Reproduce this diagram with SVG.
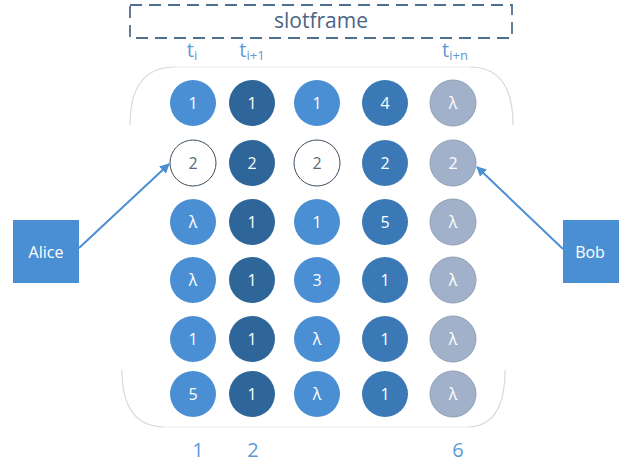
<svg xmlns="http://www.w3.org/2000/svg" width="619" height="464" viewBox="0 0 619 464">
<style>
.a{fill:#4a8fd3}
.d{fill:#2f6699}
.m{fill:#3a79b6}
.g{fill:#a1b1c9;stroke:#8f9fb6}
.h{fill:#ffffff;stroke:#3b4d60;stroke-width:1}
.t{font-family:"Open Sans","Liberation Sans",sans-serif;font-size:16px;fill:#ffffff;text-anchor:middle}
.th{fill:#5a6a7a}
.lbl{font-family:"Open Sans","Liberation Sans",sans-serif;font-size:20px;fill:#5b9bd5;text-anchor:middle}
.box{fill:#4a8fd3}
.bt{font-family:"Open Sans","Liberation Sans",sans-serif;font-size:16px;fill:#ffffff;text-anchor:middle}
.conn{stroke:#4a8fd3;stroke-width:2;fill:none;marker-end:url(#ah)}
</style>
<defs>
<marker id="ah" viewBox="0 0 10 10" refX="9" refY="5" markerWidth="5" markerHeight="5" orient="auto">
<path d="M0,0 L10,5 L0,10 z" fill="#4a8fd3"/>
</marker>
</defs>
<rect width="619" height="464" fill="#ffffff"/>
<g id="container">
<path d="M130,125 Q130,67 175,67 M470,67 Q513,67 513,125 M122,370 Q122,427 165,427 M467,427 Q505,427 505,370" fill="none" stroke="#d9d9d9" stroke-width="1.2"/>
<path d="M175,67 L470,67 M165,427 L467,427" fill="none" stroke="#f0f2f5" stroke-width="1.5"/>
</g>
<g id="slotframe">
<rect x="130" y="5" width="382" height="33" fill="none" stroke="#4f6f8f" stroke-width="1.8" stroke-dasharray="12,7"/>
<text x="321" y="28" font-family="Open Sans,Liberation Sans,sans-serif" font-size="21" fill="#4a6583" text-anchor="middle">slotframe</text>
</g>
<g id="time-labels">
<text class="lbl" x="192" y="57">t<tspan font-size="13" dy="3">i</tspan></text>
<text class="lbl" x="252" y="57">t<tspan font-size="13" dy="3">i+1</tspan></text>
<text class="lbl" x="455" y="57">t<tspan font-size="13" dy="3">i+n</tspan></text>
</g>
<g id="col1">
<circle class="a" cx="193" cy="103" r="23"/><text class="t" x="193" y="109">1</text>
<circle class="h" cx="193" cy="163" r="23"/><text class="t th" x="193" y="169">2</text>
<circle class="a" cx="193" cy="222" r="23"/><text class="t" x="193" y="228">λ</text>
<circle class="a" cx="193" cy="280" r="23"/><text class="t" x="193" y="286">λ</text>
<circle class="a" cx="193" cy="339" r="23"/><text class="t" x="193" y="345">1</text>
<circle class="a" cx="193" cy="394" r="23"/><text class="t" x="193" y="400">5</text>
</g>
<g id="col2">
<circle class="d" cx="252" cy="103" r="23"/><text class="t" x="252" y="109">1</text>
<circle class="d" cx="252" cy="163" r="23"/><text class="t" x="252" y="169">2</text>
<circle class="d" cx="252" cy="222" r="23"/><text class="t" x="252" y="228">1</text>
<circle class="d" cx="252" cy="280" r="23"/><text class="t" x="252" y="286">1</text>
<circle class="d" cx="252" cy="339" r="23"/><text class="t" x="252" y="345">1</text>
<circle class="d" cx="252" cy="394" r="23"/><text class="t" x="252" y="400">1</text>
</g>
<g id="col3">
<circle class="a" cx="317" cy="103" r="23"/><text class="t" x="317" y="109">1</text>
<circle class="h" cx="317" cy="163" r="23"/><text class="t th" x="317" y="169">2</text>
<circle class="a" cx="317" cy="222" r="23"/><text class="t" x="317" y="228">1</text>
<circle class="a" cx="317" cy="280" r="23"/><text class="t" x="317" y="286">3</text>
<circle class="a" cx="317" cy="339" r="23"/><text class="t" x="317" y="345">λ</text>
<circle class="a" cx="317" cy="394" r="23"/><text class="t" x="317" y="400">λ</text>
</g>
<g id="col4">
<circle class="m" cx="385" cy="103" r="23"/><text class="t" x="385" y="109">4</text>
<circle class="m" cx="385" cy="163" r="23"/><text class="t" x="385" y="169">2</text>
<circle class="m" cx="385" cy="222" r="23"/><text class="t" x="385" y="228">5</text>
<circle class="m" cx="385" cy="280" r="23"/><text class="t" x="385" y="286">1</text>
<circle class="m" cx="385" cy="339" r="23"/><text class="t" x="385" y="345">1</text>
<circle class="m" cx="385" cy="394" r="23"/><text class="t" x="385" y="400">1</text>
</g>
<g id="col5">
<circle class="g" cx="453" cy="103" r="23"/><text class="t" x="453" y="109">λ</text>
<circle class="g" cx="453" cy="163" r="23"/><text class="t" x="453" y="169">2</text>
<circle class="g" cx="453" cy="222" r="23"/><text class="t" x="453" y="228">λ</text>
<circle class="g" cx="453" cy="280" r="23"/><text class="t" x="453" y="286">λ</text>
<circle class="g" cx="453" cy="339" r="23"/><text class="t" x="453" y="345">λ</text>
<circle class="g" cx="453" cy="394" r="23"/><text class="t" x="453" y="400">λ</text>
</g>
<g id="alice">
<rect class="box" x="13" y="220" width="66" height="63"/>
<text class="bt" x="46" y="258">Alice</text>
</g>
<g id="bob">
<rect class="box" x="563" y="220" width="56" height="63"/>
<text class="bt" x="590" y="258">Bob</text>
</g>
<g id="connectors">
<path class="conn" d="M79,248 L169,164"/>
<path class="conn" d="M563,249 L477,167"/>
</g>
<g id="column-numbers">
<text class="lbl" x="198" y="457">1</text>
<text class="lbl" x="253" y="457">2</text>
<text class="lbl" x="458" y="457">6</text>
</g>
</svg>
